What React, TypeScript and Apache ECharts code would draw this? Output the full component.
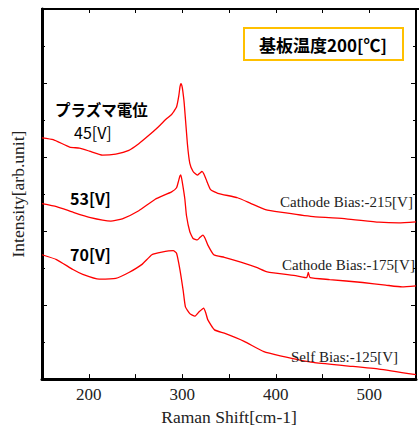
import React, { useEffect, useRef } from "react";
import * as echarts from "echarts";

const shift45 = [150,162,179.6,190,200.7,214.7,228.9,242.9,253.5,264,274.6,283.4,288.6,290.4,293.9,296.3,297.6,298.6,299.6,300.5,302.1,305.5,308.1,311.6,316.1,319,321.1,323,325.6,330.3,338,359.1,373.1,389,404.8,440.1,475.2,510.4,531.5,550];
const int45 = [6.52,6.47,6.27,6.24,6.16,6.05,6.08,6.18,6.36,6.58,6.82,7.04,7.15,7.21,7.35,7.65,7.9,7.98,7.93,7.8,7.45,6.36,5.83,5.61,5.51,5.57,5.61,5.55,5.39,5.12,5.02,4.9,4.75,4.58,4.51,4.39,4.33,4.24,4.22,4.25];

const shift53 = [150,165.5,183.1,200.7,223.6,235.9,253.5,271.1,288.6,293.9,296,297.5,298.5,299.9,302.8,304.5,308.1,311.6,316.1,319,322.1,324.5,327.4,333.7,345,362.6,380.2,390.8,422.4,433,434.8,436.7,457.6,492.9,517.5,535.1,550];
const int53 = [4.74,4.66,4.51,4.37,4.27,4.33,4.55,4.86,5.06,5.17,5.35,5.49,5.52,5.34,4.86,4.42,3.98,3.8,3.76,3.83,3.89,3.8,3.62,3.36,3.29,3.16,3.01,2.9,2.79,2.74,2.88,2.74,2.69,2.61,2.54,2.49,2.52];

const shift70 = [150,165.5,183.1,193.6,211.2,228.9,242.9,257,267.5,278.1,290.4,293.9,297.5,301,303.4,308.1,313.4,318,322.9,325,327.4,334.5,345,366.2,387.3,404.8,440.1,475.2,510.4,550];
const int70 = [3.36,3.23,2.96,2.83,2.7,2.72,2.88,3.1,3.36,3.43,3.47,3.4,2.96,2.39,1.95,1.77,1.7,1.82,1.92,1.8,1.6,1.33,1.24,1.02,0.74,0.63,0.45,0.36,0.27,0.12];

const xLabels = [200, 300, 400, 500];
const seriesNames = ["45[V]", "53[V]", "70[V]"];
const biasLabels = ["Cathode Bias:-215[V]", "Cathode Bias:-175[V]", "Self Bias:-125[V]"];
const titleText = "基板温度200[℃]";
const potentialText = "プラズマ電位";

const zip = (a: number[], b: number[]) => a.map((v, i) => [v, b[i]]);

export default function App() {
  const ref = useRef<HTMLDivElement>(null);
  useEffect(() => {
    if (!ref.current) return;
    document.body.style.margin = "0";
    const chart = echarts.init(ref.current, null, { renderer: "svg" });
    const serif = "'Liberation Serif', 'Times New Roman', serif";
    const sans = "'Noto Sans CJK JP', 'Noto Sans', sans-serif";
    const lineSeries = (name: string, data: number[][]) => ({
      name,
      type: "line",
      data,
      showSymbol: false,
      smooth: 0.15,
      lineStyle: { color: "#ff0000", width: 1.3 },
      itemStyle: { color: "#ff0000" },
      clip: true,
    });
    const txt = (text: string, x: number, y: number, font: string, fill = "#000") => ({
      type: "text",
      x,
      y,
      style: {
        text,
        font,
        fill,
        lineHeight: 16,
        align: "left",
        verticalAlign: "middle",
        textAlign: "left",
        textVerticalAlign: "middle",
      },
      z: 10,
    });
    const sideY = {
      type: "value",
      min: 0,
      max: 10,
      interval: 2,
      axisTick: { show: true, inside: true, length: 5, lineStyle: { color: "#000", width: 1 } },
      minorTick: { show: true, splitNumber: 2, length: 3, lineStyle: { color: "#000", width: 1 } },
      axisLabel: { show: false },
      splitLine: { show: false },
      minorSplitLine: { show: false },
    };
    chart.setOption({
      animation: false,
      backgroundColor: "#fff",
      grid: {
        left: 42,
        top: 9,
        width: 379,
        height: 378,
        containLabel: false,
        show: true,
        borderColor: "#000",
        borderWidth: 2,
        backgroundColor: "transparent",
      },
      xAxis: [
        {
          type: "value",
          gridIndex: 0,
          min: 150,
          max: 550,
          interval: 50,
          position: "bottom",
          name: "Raman Shift[cm-1]",
          nameLocation: "middle",
          nameGap: 24,
          nameTextStyle: { fontFamily: serif, fontSize: 17.5, color: "#222" },
          axisLine: { show: true, onZero: false, lineStyle: { color: "#000", width: 3 } },
          axisTick: { show: true, inside: true, length: 5, lineStyle: { color: "#000", width: 1 } },
          axisLabel: {
            show: true,
            margin: 7,
            fontFamily: serif,
            fontSize: 17,
            color: "#222",
            formatter: (v: number) => (xLabels.includes(v) ? String(v) : ""),
          },
          splitLine: { show: false },
        },
        {
          type: "value",
          gridIndex: 0,
          min: 150,
          max: 550,
          interval: 50,
          position: "top",
          axisLine: { show: true, onZero: false, lineStyle: { color: "#000", width: 2 } },
          axisTick: { show: true, inside: true, length: 4, lineStyle: { color: "#000", width: 1 } },
          axisLabel: { show: false },
          splitLine: { show: false },
        },
      ],
      yAxis: [
        {
          ...sideY,
          gridIndex: 0,
          position: "left",
          name: "Intensity[arb.unit]",
          nameLocation: "middle",
          nameGap: 15,
          nameTextStyle: { fontFamily: serif, fontSize: 17.5, color: "#222" },
          axisLine: { show: true, onZero: false, lineStyle: { color: "#000", width: 3 } },
        },
        {
          ...sideY,
          gridIndex: 0,
          position: "right",
          axisLine: { show: true, onZero: false, lineStyle: { color: "#000", width: 2 } },
        },
      ],
      series: [
        lineSeries(seriesNames[0], zip(shift45, int45)),
        lineSeries(seriesNames[1], zip(shift53, int53)),
        lineSeries(seriesNames[2], zip(shift70, int70)),
        { type: "line", xAxisIndex: 1, yAxisIndex: 1, data: [], showSymbol: false, silent: true },
      ],
      graphic: [
        {
          type: "line",
          shape: { x1: 41, y1: 9, x2: 421, y2: 9 },
          style: { stroke: "#000", lineWidth: 2 },
          z: 20,
        },
        {
          type: "rect",
          shape: { x: 244, y: 28, width: 159, height: 32 },
          style: { fill: "#fff", stroke: "#FFC000", lineWidth: 2 },
          z: 9,
        },
        {
          type: "text",
          x: 323,
          y: 44,
          style: {
            text: titleText,
            font: `bold 17px ${sans}`,
            fill: "#000",
            align: "center",
            verticalAlign: "middle",
            textAlign: "center",
            textVerticalAlign: "middle",
          },
          z: 10,
        },
        txt(potentialText, 55, 109, `bold 15.5px ${sans}`),
        txt(seriesNames[0], 74, 132, `16px ${sans}`),
        txt(seriesNames[1], 70, 198, `bold 16px ${sans}`),
        txt(seriesNames[2], 70, 254, `bold 16px ${sans}`),
        txt(biasLabels[0], 280, 202, `15px ${serif}`, "#222"),
        txt(biasLabels[1], 282, 265, `15px ${serif}`, "#222"),
        txt(biasLabels[2], 291, 357, `15px ${serif}`, "#222"),
      ],
    });
    return () => chart.dispose();
  }, []);
  return <div ref={ref} style={{ width: 419, height: 431, background: "#fff" }} />;
}
